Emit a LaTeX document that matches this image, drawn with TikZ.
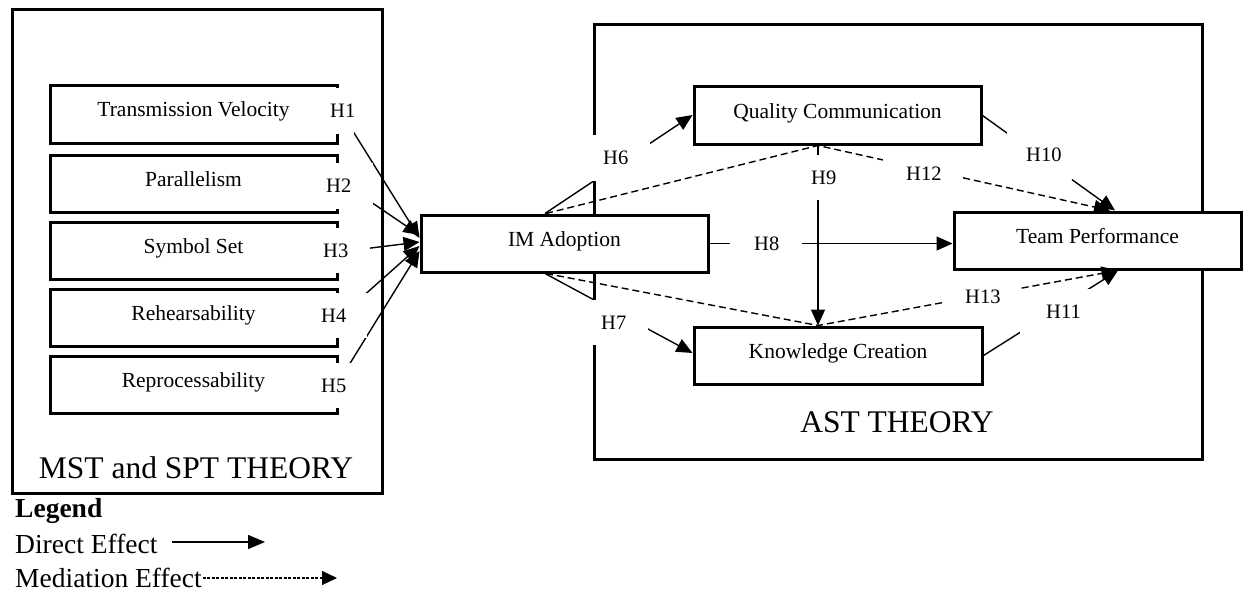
\documentclass[tikz,border=0pt]{standalone}
\usepackage{fontspec}
\setmainfont{Liberation Serif}
\usetikzlibrary{arrows.meta,calc}
\tikzset{
  frame/.style={draw, line width=3pt, inner sep=0pt},
  box/.style={draw, fill=white, line width=3pt, minimum width=287pt, minimum height=57pt, inner sep=0pt, font=\fontsize{21.5pt}{25pt}\selectfont, text height=14pt, text depth=9pt},
  conn/.style={line width=1.4pt, -{Triangle[length=16pt,width=14pt]}},
  med/.style={conn, dash pattern=on 7pt off 4pt},
  hl/.style={fill=white, anchor=west, inner sep=0pt, align=left, font=\fontsize{20.5pt}{24pt}\selectfont, text height=13.5pt, text depth=0pt},
  titletext/.style={anchor=base, inner sep=0pt, font=\fontsize{31.5pt}{36pt}\selectfont},
  legendtext/.style={anchor=base west, inner sep=0pt, font=\fontsize{27.5pt}{32pt}\selectfont},
}
\begin{document}
\begin{tikzpicture}[x=1pt,y=-1pt]
\useasboundingbox (0,0) rectangle (1243,594);
% frames
\node[frame, minimum width=369.5pt, minimum height=483.5pt] (mst) at (197.25,251.25) {};
\node[frame, minimum width=608pt, minimum height=434pt] (ast) at (898,242) {};
\node[titletext] (msttitle) at (196,478) {MST and SPT THEORY};
\node[titletext] (asttitle) at (897,432.7) {AST THEORY};
% boxes
\node[box] (tv) at (193.5,114.5) {Transmission Velocity};
\node[box] (par) at (193.5,183.5) {Parallelism};
\node[box] (sym) at (193.5,251) {Symbol Set};
\node[box] (reh) at (193.5,317.5) {Rehearsability};
\node[box] (rep) at (193.5,385) {Reprocessability};
\node[box] (im) at (564.5,243.5) {IM Adoption};
\node[box] (qc) at (837.5,115.5) {Quality Communication};
\node[box] (tp) at (1097.5,240.5) {Team Performance};
\node[box, minimum width=288pt] (kc) at (838,355.5) {Knowledge Creation};
% left connectors
\draw[conn] ([yshift=6.5pt]tv.east) -- ([yshift=5.5pt]im.west);
\draw[conn] ([yshift=3.5pt]par.east) -- ([yshift=8.5pt]im.west);
\draw[conn] ([yshift=-1pt]sym.east) -- ([yshift=1.5pt]im.west);
\draw[conn] ([yshift=-0.5pt]reh.east) -- ([yshift=-2.5pt]im.west);
\draw[conn] ([yshift=3pt]rep.east) -- ([yshift=-7.5pt]im.west);
% right connectors
\draw[conn] ([xshift=-19.5pt]im.north) -- ([yshift=0.5pt]qc.west);
\draw[conn] ([xshift=-19.5pt]im.south) -- ([yshift=2.5pt]kc.west);
\draw[conn] (im.east) -- (im.east -| tp.west);
\draw[conn] ([xshift=-19.5pt]qc.south) -- ([xshift=-20pt]kc.north);
\draw[conn] (qc.east) -- ([xshift=17.5pt]tp.north);
\draw[conn] (kc.east) -- ([xshift=20.5pt]tp.south);
\draw[med] ([xshift=-18.5pt]im.north) -- ([xshift=-19.5pt]qc.south) -- ([xshift=12.5pt]tp.north);
\draw[med] ([xshift=-18.5pt]im.south) -- ([xshift=-20pt]kc.north) -- ([xshift=20pt]tp.south);
% hypothesis labels
\node[hl, text width=26pt, minimum height=46pt] (h1) at (328,111) {\hspace*{2pt}H1};
\node[hl, text width=49pt, minimum height=46pt] (h2) at (324,186) {\hspace*{2pt}H2};
\node[hl, text width=49pt, minimum height=45pt] (h3) at (321,250.5) {\hspace*{2pt}H3};
\node[hl, text width=48pt, minimum height=45pt] (h4) at (319,315.5) {\hspace*{2pt}H4};
\node[hl, text width=32pt, minimum height=45pt] (h5) at (319,385.5) {\hspace*{2pt}H5};
\node[hl, text width=60pt, minimum height=46pt] (h6) at (590,158) {\hspace*{13pt}H6};
\node[hl, text width=58pt, minimum height=45pt] (h7) at (590,322.5) {\hspace*{11pt}H7};
\node[hl, text width=72pt, minimum height=30pt] (h8) at (730,244) {\hspace*{24pt}H8};
\node[hl, text width=32pt, minimum height=45pt] (h9) at (806,177.5) {\hspace*{5pt}H9};
\node[hl, text width=80pt, minimum height=43pt] (h12) at (883,173.5) {\hspace*{23pt}H12};
\node[hl, text width=65pt, minimum height=50pt] (h10) at (1007,155) {\hspace*{19pt}H10};
\node[hl, text width=77pt, minimum height=34pt] (h13) at (943,297) {\hspace*{22pt}H13};
\node[hl, text width=79pt, minimum height=45pt] (h11) at (1020,311.5) {\hspace*{26pt}H11};
% legend
\node[legendtext, font=\fontsize{27.5pt}{32pt}\selectfont\bfseries] (legend) at (15,517) {Legend};
\node[legendtext] (ldirect) at (15,553.3) {Direct Effect};
\node[legendtext] (lmed) at (15,587.3) {Mediation Effect};
\coordinate (ldA) at (172,542);
\coordinate (ldB) at (265,542);
\coordinate (lmA) at ([xshift=1pt,yshift=9.3pt]lmed.base east);
\coordinate (lmB) at (337,578);
\draw[line width=1.4pt, -{Triangle[length=17pt,width=14pt]}] (ldA) -- (ldB);
\draw[line width=1.1pt, dash pattern=on 3pt off 1.5pt, -{Triangle[length=15pt,width=14pt]}] (lmA) -- (lmB);
\end{tikzpicture}
\end{document}
